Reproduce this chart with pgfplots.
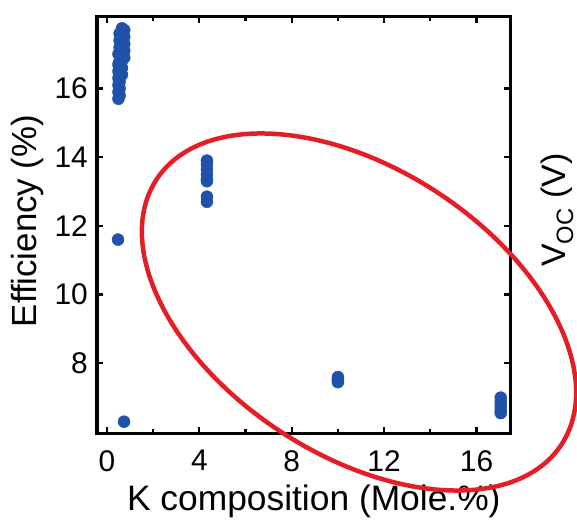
\documentclass[border=0pt]{standalone}
\usepackage{pgfplots}
\pgfplotsset{compat=1.18}
\usepackage{fontspec}
\setmainfont{Liberation Sans}
\definecolor{dotblue}{RGB}{31,82,168}
\definecolor{ellred}{RGB}{228,30,38}
\begin{document}
\begin{tikzpicture}
\useasboundingbox (-97bp,-88bp) rectangle (480bp,433bp);
\begin{axis}[
  at={(0,0)}, anchor=south west,
  scale only axis, width=413bp, height=416bp,
  xmin=-0.43, xmax=17.45, ymin=5.97, ymax=18.08,
  xtick={0,4,8,12,16}, minor xtick={2,6,10,14},
  ytick={8,10,12,14,16},
  tick align=inside,
  major tick length=6bp, minor tick length=4bp,
  every tick/.style={black, line width=2.2bp},
  axis line style={line width=3bp},
  /pgf/number format/assume math mode=true,
  xticklabel style={font=\fontsize{30}{30}\selectfont, inner sep=0pt, anchor=north, yshift=-17bp},
  yticklabel style={font=\fontsize{30}{30}\selectfont, inner sep=0pt, anchor=east, xshift=-9bp},
  xlabel={K composition (Mole.\%)},
  xlabel style={font=\fontsize{35.5}{35.5}\selectfont, at={(axis description cs:0.525,0)}, anchor=base, yshift=-77bp, inner sep=0pt},
  clip=false,
]
\addplot[only marks, mark=*, mark size=6bp, dotblue, mark options={draw=dotblue, fill=dotblue}] coordinates {
 (0.75,17.7) (0.75,17.5) (0.75,17.3) (0.75,17.1) (0.75,16.9)
 (0.65,17.75) (0.65,17.55) (0.65,17.35) (0.65,17.2) (0.65,17.0) (0.65,16.8) (0.65,16.6) (0.65,16.4)
 (0.55,17.6) (0.55,17.4) (0.55,17.2) (0.55,17.0) (0.55,16.8) (0.55,16.6) (0.55,16.4) (0.55,16.2) (0.55,16.0) (0.55,15.8)
 (0.5,17.0) (0.5,16.7) (0.5,16.5) (0.5,16.3) (0.5,16.1) (0.5,15.9) (0.5,15.7)
 (0.48,11.6) (0.74,6.3)
 (4.33,13.9) (4.33,13.8) (4.33,13.65) (4.33,13.5) (4.33,13.35) (4.33,13.3) (4.33,12.85) (4.33,12.7)
 (10.0,7.6) (10.0,7.55) (10.0,7.5) (10.0,7.45)
 (17.05,7.0) (17.05,6.9) (17.05,6.8) (17.05,6.7) (17.05,6.6) (17.05,6.55)
};
\end{axis}
\node[rotate=90, anchor=base, inner sep=0pt, font=\fontsize{35}{35}\selectfont] at (-60bp,212bp) {Efficiency (\%)};
\node[rotate=90, anchor=center, font=\fontsize{34}{34}\selectfont] at (460bp,223bp) {V\textsubscript{OC} (V)};
\draw[ellred, line width=4.5bp, rotate around={-33.2:(262bp,121bp)}] (262bp,121bp) ellipse [x radius=242bp, y radius=143bp];
\end{tikzpicture}
\end{document}
